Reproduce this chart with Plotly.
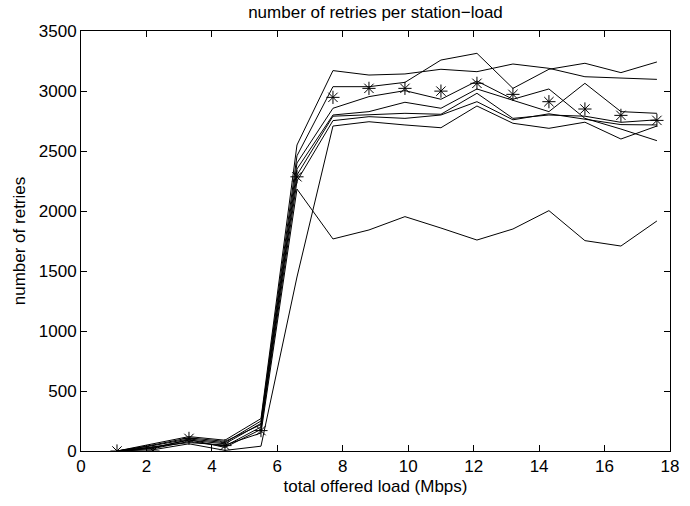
import plotly.graph_objects as go

# offered load (Mbps)
x_load = [1.1, 2.2, 3.3, 4.4, 5.5, 6.6, 7.7, 8.8, 9.9, 11.0, 12.1, 13.2, 14.3, 15.4, 16.5, 17.6]

# number of retries per station (individual runs)
run_a = [0, 60, 120, 90, 270, 2550, 3170, 3133, 3142, 3181, 3161, 3225, 3189, 3119, 3106, 3097]
run_b = [0, 45, 100, 70, 250, 2460, 3036, 3036, 3072, 3258, 3314, 3022, 3181, 3231, 3153, 3242]
run_c = [0, 30, 90, 60, 230, 2400, 2856, 2953, 3003, 2931, 3083, 2931, 3017, 2772, 2683, 2586]
run_d = [0, 20, 80, 40, 200, 2350, 2800, 2828, 2906, 2856, 3017, 2925, 2828, 3064, 2828, 2814]
run_e = [0, 50, 110, 80, 220, 2300, 2790, 2800, 2814, 2806, 2981, 2772, 2800, 2790, 2739, 2760]
run_f = [0, 10, 60, 5, 40, 1450, 2708, 2744, 2717, 2694, 2875, 2731, 2689, 2740, 2600, 2708]
run_g = [0, 35, 70, 50, 150, 2183, 1767, 1842, 1953, 1858, 1758, 1850, 2003, 1753, 1708, 1917]
run_h = [0, 25, 95, 30, 180, 2250, 2753, 2786, 2772, 2800, 2911, 2760, 2810, 2764, 2720, 2717]

# marker series (*)
star_series = [0, 0, 105, 45, 170, 2285, 2947, 3022, 3022, 2999, 3064, 2972, 2911, 2850, 2797, 2755]

runs = [run_a, run_b, run_c, run_d, run_e, run_f, run_g, run_h]

x_ticks = [0, 2, 4, 6, 8, 10, 12, 14, 16, 18]
y_ticks = [0, 500, 1000, 1500, 2000, 2500, 3000, 3500]

FONT = "Liberation Sans, Arial, Helvetica, sans-serif"

fig = go.Figure()
for r in runs:
    fig.add_trace(go.Scatter(x=x_load, y=r, mode="lines",
                             line=dict(color="black", width=1),
                             showlegend=False, hoverinfo="skip"))
fig.add_trace(go.Scatter(x=x_load, y=star_series, mode="markers",
                         marker=dict(symbol="asterisk-open", size=11,
                                     color="black", line=dict(color="black", width=1)),
                         showlegend=False))

axis_common = dict(
    showgrid=False, zeroline=False, showline=True, linecolor="black", linewidth=1,
    mirror="ticks", ticks="inside", ticklen=6, tickcolor="black", tickwidth=1,
    tickfont=dict(family=FONT, size=17, color="black"),
)

fig.update_layout(
    width=690, height=506,
    margin=dict(l=81, r=11, t=31, b=55),
    paper_bgcolor="white", plot_bgcolor="white",
    title=dict(text="number of retries per station\u2212load", x=0.5, xref="paper",
               y=(506 - 12) / 506, yref="container", yanchor="middle", xanchor="center",
               font=dict(family=FONT, size=17, color="black")),
    xaxis=dict(range=[0, 18], tickvals=x_ticks, ticktext=[str(v) for v in x_ticks],
               title=dict(text="total offered load (Mbps)", standoff=4,
                          font=dict(family=FONT, size=17, color="black")),
               **axis_common),
    yaxis=dict(range=[0, 3500], tickvals=y_ticks, ticktext=[str(v) for v in y_ticks],
               title=dict(text="number of retries", standoff=8,
                          font=dict(family=FONT, size=17, color="black")),
               **axis_common),
)

fig.write_html("out.html")
